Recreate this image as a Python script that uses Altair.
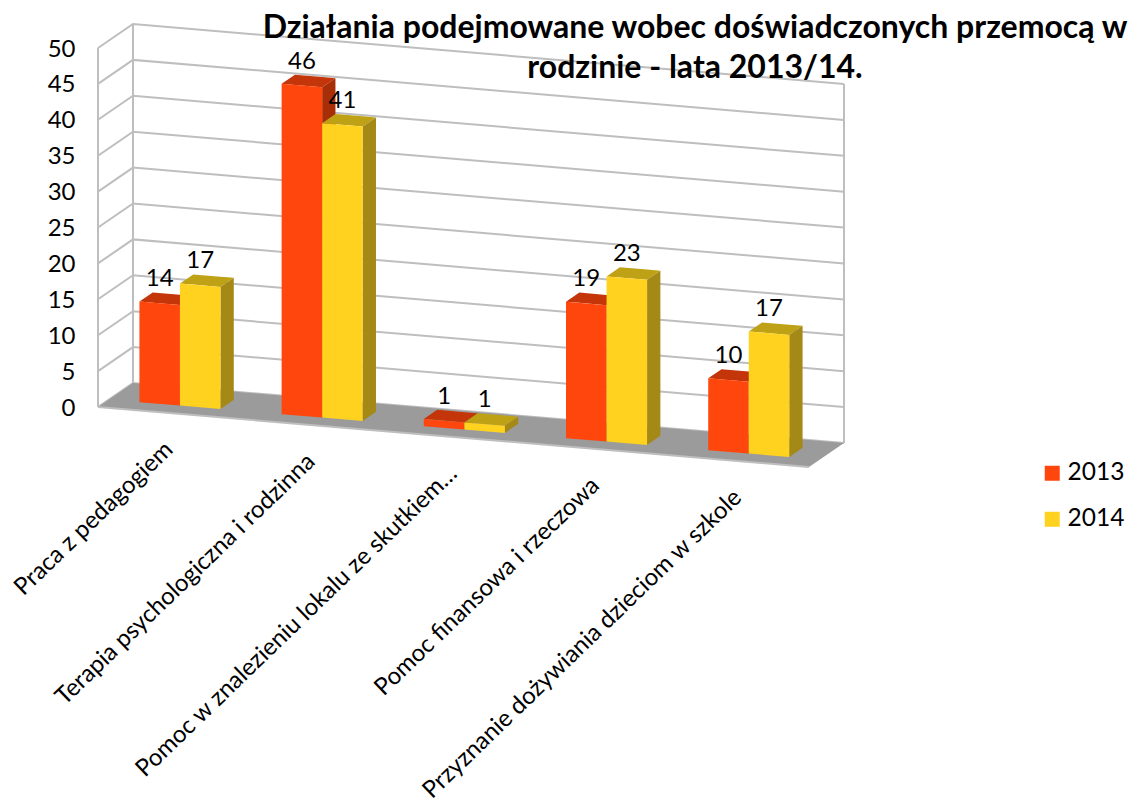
import altair as alt
import pandas as pd

categories = [
    "Praca z pedagogiem",
    "Terapia psychologiczna i rodzinna",
    "Pomoc w znalezieniu lokalu ze skutkiem…",
    "Pomoc finansowa i rzeczowa",
    "Przyznanie dożywiania dzieciom w szkole",
]
values_2013 = [14, 46, 1, 19, 10]
values_2014 = [17, 41, 1, 23, 17]
series = {"2013": values_2013, "2014": values_2014}
title_lines = [
    "Działania podejmowane wobec doświadczonych przemocą w",
    "rodzinie - lata 2013/14.",
]
axis_levels = list(range(0, 55, 5))

FONT = "Lato"
# oblique projection of (category, depth, value) onto the chart's x and value axes
X0, CAT_DX, DEPTH_DX = 98.0, 142.2, 35.0
UNIT = 7.18
CAT_DV, DEPTH_DV = -12.0 / UNIT, 24.0 / UNIT
GAP, BAR, D0, D1 = 0.215, 0.285, 0.31, 0.69


def project(c, d, v):
    return X0 + CAT_DX * c + DEPTH_DX * d, v + CAT_DV * c + DEPTH_DV * d


def polygon_rows(poly_id, face, corners):
    """Upper and lower envelope of a convex polygon, as rows for an area mark."""
    pts = [project(*p) for p in corners]
    xs = sorted({round(p[0], 3) for p in pts})
    rows = []
    for x in xs:
        ys = []
        for (x1, y1), (x2, y2) in zip(pts, pts[1:] + pts[:1]):
            lo, hi = min(x1, x2) - 1e-3, max(x1, x2) + 1e-3
            if lo <= x <= hi:
                if abs(x2 - x1) < 1e-3:
                    ys += [y1, y2]
                else:
                    ys.append(y1 + (y2 - y1) * (x - x1) / (x2 - x1))
        rows.append(dict(poly=poly_id, face=face, x=x, y=max(ys), y2=min(ys)))
    return rows


bar_rows = {}
label_rows = []
for s, (name, vals) in enumerate(series.items()):
    shade, front = [], []
    for i, v in enumerate(vals):
        c0 = i + GAP + BAR * s
        c1 = c0 + BAR
        pid = f"{name}-{i}"
        shade += polygon_rows(pid + "t", name + " top",
                              [(c0, D0, v), (c1, D0, v), (c1, D1, v), (c0, D1, v)])
        shade += polygon_rows(pid + "s", name + " side",
                              [(c1, D0, 0), (c1, D1, 0), (c1, D1, v), (c1, D0, v)])
        front += polygon_rows(pid + "f", name,
                              [(c0, D0, 0), (c1, D0, 0), (c1, D0, v), (c0, D0, v)])
        lx, ly = project((c0 + c1) / 2, D0, v)
        label_rows.append(dict(x=lx, y=ly, text=str(v)))
    bar_rows[name] = (pd.DataFrame(shade), pd.DataFrame(front))

floor_df = pd.DataFrame(polygon_rows("floor", "floor", [(0, 0, 0), (5, 0, 0), (5, 1, 0), (0, 1, 0)]))

line_rows = []
def add_line(name, pts):
    for k, p in enumerate(pts):
        x, y = project(*p)
        line_rows.append(dict(line=name, k=k, x=x, y=y))

for lv in axis_levels:
    add_line(f"g{lv}", [(0, 0, lv), (0, 1, lv), (5, 1, lv)])
add_line("v0", [(0, 0, 0), (0, 0, 50)])
add_line("v1", [(0, 1, 0), (0, 1, 50)])
add_line("v2", [(5, 1, 0), (5, 1, 50)])
lines_df = pd.DataFrame(line_rows)
edge_rows = []
for k, p in enumerate([(0, 0, 0), (5, 0, 0)]):
    x, y = project(*p)
    edge_rows.append(dict(line="edge", k=k, x=x, y=y))
edge_df = pd.DataFrame(edge_rows)

cat_rows = []
for i, name in enumerate(categories):
    x, y = project(i + 0.5, 0, 0)
    cat_rows.append(dict(x=x, y=y, text=name))

face_domain = ["2013", "2014", "2013 top", "2013 side", "2014 top", "2014 side", "floor"]
face_range = ["#FF460D", "#FFD21F", "#C4350A", "#A82E08", "#BFA116", "#A48916", "#9B9B9B"]

X = alt.X("x:Q", scale=alt.Scale(domain=[80, 1134], nice=False, zero=False), axis=None)
Y = alt.Y(
    "y:Q",
    scale=alt.Scale(domain=[(407 - 801) / UNIT, (407 - 10) / UNIT], nice=False, zero=False),
    axis=alt.Axis(
        values=axis_levels, title=None, domain=False, ticks=False, grid=False,
        labelFont=FONT, labelFontSize=24, labelColor="#000000", labelPadding=5, labelOffset=1,
    ),
)
COLOR = alt.Color(
    "face:N",
    scale=alt.Scale(domain=face_domain, range=face_range),
    legend=alt.Legend(
        values=["2013", "2014"], title=None, orient="none", legendX=960, legendY=451,
        symbolType="square", symbolSize=225, symbolStrokeWidth=0, symbolOpacity=1,
        labelFont=FONT, labelFontSize=24.5, labelColor="#000000", labelOffset=3,
        rowPadding=21,
    ),
)


def area(df):
    return alt.Chart(df).mark_area(opacity=1).encode(
        x=X, y=Y, y2="y2:Q", color=COLOR, detail="poly:N"
    )


def poly_lines(df):
    return alt.Chart(df).mark_line(color="#BEBEBE", strokeWidth=2).encode(
        x=X, y=Y, detail="line:N", order="k:Q"
    )


layers = [poly_lines(lines_df), area(floor_df), poly_lines(edge_df)]
for name in series:
    shade_df, front_df = bar_rows[name]
    layers += [area(shade_df), area(front_df)]

data_labels = alt.Chart(pd.DataFrame(label_rows)).mark_text(
    font=FONT, fontSize=24, color="#000000", baseline="middle", align="center", dy=-24
).encode(x=X, y=Y, text="text:N")

cat_labels = alt.Chart(pd.DataFrame(cat_rows)).mark_text(
    font=FONT, fontSize=24, color="#000000", baseline="middle", align="right",
    angle=316, dx=-23, dy=24
).encode(x=X, y=Y, text="text:N")

chart = alt.layer(*layers, data_labels, cat_labels).properties(
    width=1054,
    height=791,
    title=alt.Title(
        text=title_lines, font=FONT, fontSize=32, fontWeight="bold", color="#000000",
        anchor="middle", frame="group", baseline="top", lineHeight=40, dx=88, dy=75, offset=0,
    ),
    padding={"left": 72, "top": 2, "right": 0, "bottom": 0},
    autosize=alt.AutoSizeParams(type="none"),
).configure_view(stroke=None)

chart.save("out.html", embed_options={"renderer": "svg", "actions": False})
